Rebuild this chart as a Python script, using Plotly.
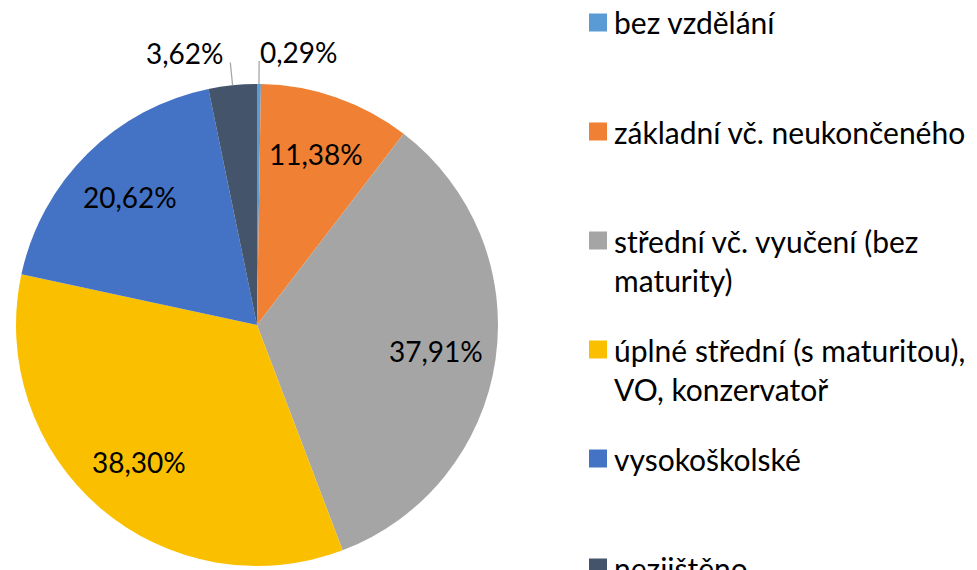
import math
import plotly.graph_objects as go

categories = ["bez vzdělání", "základní vč. neukončeného",
              "střední vč. vyučení (bez<br>maturity)",
              "úplné střední (s maturitou),<br>VO, konzervatoř",
              "vysokoškolské", "nezjištěno"]
values = [0.29, 11.38, 37.91, 38.30, 20.62, 3.62]
colors = ["#5B9BD5", "#F08033", "#A5A5A5", "#FAC000", "#4472C4", "#44546A"]
outside = [True, False, False, False, False, True]

W, H = 977, 570
OFF = 8  # page body margin of the browser
FONT = "Lato, Calibri, 'Open Sans', sans-serif"
LABEL_SIZE = 28
LEGEND_SIZE = 30

# pie geometry in screen pixels
CX, CY, R = 257, 325, 241


def px(x):
    return (x - OFF) / W


def py(y):
    return 1 - (y - OFF) / H


fig = go.Figure(go.Pie(
    labels=categories,
    values=values,
    sort=False,
    direction="clockwise",
    rotation=0,
    marker=dict(colors=colors, line=dict(color="white", width=0)),
    textinfo="none",
    showlegend=False,
    hoverinfo="label+value",
    domain=dict(x=[px(CX - R), px(CX + R)], y=[py(CY + R), py(CY - R)]),
))

shapes = []
annotations = []

# slice labels, placed from the cumulative values
total = sum(values)
cum = 0.0
for v, out in zip(values, outside):
    mid = (cum + v / 2) / total * 2 * math.pi
    cum += v
    text = f"{v:.2f}".replace(".", ",") + "%"
    if out:
        x0 = CX + R * math.sin(mid)
        y0 = CY - R * math.cos(mid)
        x1 = CX + 1.095 * R * math.sin(mid)
        y1 = CY - 1.095 * R * math.cos(mid)
        shapes.append(dict(type="line", xref="paper", yref="paper",
                           x0=px(x0), y0=py(y0), x1=px(x1), y1=py(y1),
                           line=dict(color="#A6A6A6", width=1.3)))
        left = x1 < CX
        annotations.append(dict(
            text=text, xref="paper", yref="paper",
            x=px(x1 - 4 if left else x1 - 1), y=py(y1 - 9),
            xanchor="right" if left else "left", yanchor="middle",
            showarrow=False,
            font=dict(family=FONT, size=LABEL_SIZE, color="black")))
    else:
        rr = 0.75 * R
        annotations.append(dict(
            text=text, xref="paper", yref="paper",
            x=px(CX + rr * math.sin(mid)), y=py(CY - rr * math.cos(mid)),
            xanchor="center", yanchor="middle", showarrow=False,
            font=dict(family=FONT, size=LABEL_SIZE, color="black")))

# legend drawn at the right
LINE_H = 1.3 * LEGEND_SIZE
for i, (lab, col) in enumerate(zip(categories, colors)):
    cy = 22.5 + i * 109
    n = lab.count("<br>") + 1
    shapes.append(dict(type="rect", xref="paper", yref="paper",
                       x0=px(589), x1=px(607),
                       y0=py(cy + 9), y1=py(cy - 9),
                       fillcolor=col, line=dict(width=0)))
    annotations.append(dict(text=lab, xref="paper", yref="paper",
                            x=px(612), y=py(cy + (n - 1) * LINE_H / 2),
                            xanchor="left", yanchor="middle", align="left",
                            showarrow=False,
                            font=dict(family=FONT, size=LEGEND_SIZE,
                                      color="black")))

fig.update_layout(
    width=W, height=H,
    margin=dict(l=0, r=0, t=0, b=0),
    paper_bgcolor="white",
    plot_bgcolor="white",
    shapes=shapes,
    annotations=annotations,
)

fig.write_html("out.html")
